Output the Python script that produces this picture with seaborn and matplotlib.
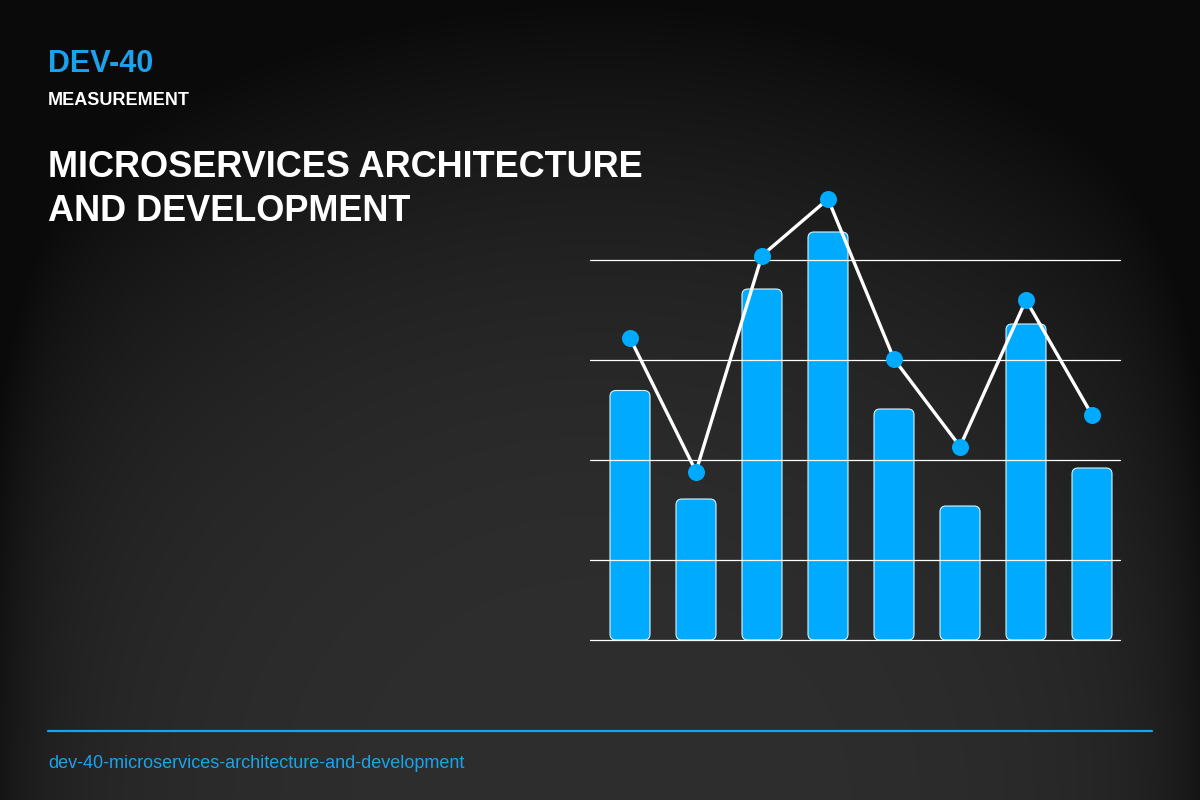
import numpy as np
import matplotlib.pyplot as plt
from matplotlib.patches import FancyBboxPatch
import seaborn as sns

# data (arbitrary units, 0 = chart baseline)
categories = ["1", "2", "3", "4", "5", "6", "7", "8"]
bar_values = [49.9, 28.2, 70.2, 81.6, 46.2, 26.8, 63.2, 34.4]
line_values = [60.4, 33.7, 76.9, 88.2, 56.2, 38.7, 68.0, 45.0]
grid_values = [0, 16, 36, 56, 76]

header = "DEV-40"
subheader = "MEASUREMENT"
title = "MICROSERVICES ARCHITECTURE\nAND DEVELOPMENT"
footer = "dev-40-microservices-architecture-and-development"

BLUE = "#00AAFF"
TEXT_BLUE = "#1AA3EC"

sns.set_theme(style="dark")
plt.rcParams['font.family'] = ['Liberation Sans', 'DejaVu Sans']

W, H = 1200, 800
fig = plt.figure(figsize=(12, 8), dpi=100)

# background: elliptical gradient from the bottom plus darker side edges
bg = fig.add_axes([0, 0, 1, 1], zorder=-10)
yy, xx = np.mgrid[0:H, 0:W].astype(float)
r = np.sqrt(((xx - 600) / 900.0) ** 2 + ((yy - 800) / 800.0) ** 2)
v = 46 - 36 * np.clip(r, 0, 1) ** 2.8
v -= 14 * (np.exp(-xx / 45.0) + np.exp(-(W - xx) / 45.0))
shade = np.clip(v, 10, 255) / 255.0
bg.imshow(np.dstack([shade, shade, shade]), extent=[0, W, H, 0], aspect="auto")
bg.set_axis_off()

# chart axes: x 590..1120 px, y 180..640 px
ax = fig.add_axes([590 / W, (H - 640) / H, 530 / W, 460 / H])
ax.set_facecolor("none")

sns.barplot(x=categories, y=bar_values, color=BLUE, width=40 / 66,
            saturation=1, ax=ax)
ax.set_xlim(-40 / 66, 7 + 28 / 66)
ax.set_ylim(0, 92)

# rounded bars
fig.canvas.draw()
px_x = ax.transData.transform((1, 0))[0] - ax.transData.transform((0, 0))[0]
px_y = ax.transData.transform((0, 1))[1] - ax.transData.transform((0, 0))[1]
rx = 6 / px_x
ry = 6 / px_y
for p in list(ax.patches):
    x0, y0, w, h = p.get_x(), p.get_y(), p.get_width(), p.get_height()
    p.remove()
    ax.add_patch(FancyBboxPatch((x0, y0), w, h,
                                boxstyle=f"round,pad=0,rounding_size={rx}",
                                mutation_aspect=ry / rx,
                                facecolor=BLUE, edgecolor="#d8f4ff",
                                linewidth=0.8, zorder=1))

for gv in grid_values:
    ax.axhline(gv, color="white", linewidth=0.9, zorder=2, clip_on=False)

xpos = np.arange(len(categories))
sns.lineplot(x=xpos, y=line_values, color="white", linewidth=2.4,
             ax=ax, zorder=3)
sns.scatterplot(x=xpos, y=line_values, color=BLUE, s=150, linewidth=0,
                ax=ax, zorder=4)

ax.set_xlabel("")
ax.set_ylabel("")
ax.set_xticks([])
ax.set_yticks([])
ax.grid(False)
for s in ax.spines.values():
    s.set_visible(False)

# texts
def px(x, y):
    return x / W, 1 - y / H

fig.text(*px(48, 72), header, color=TEXT_BLUE, fontsize=22,
         fontweight="bold", va="baseline")
fig.text(*px(48, 105), subheader, color="white", fontsize=13,
         fontweight="bold", va="baseline")
fig.text(*px(48, 177), title.split("\n")[0], color="white", fontsize=26,
         fontweight="bold", va="baseline")
fig.text(*px(48, 221), title.split("\n")[1], color="white", fontsize=26,
         fontweight="bold", va="baseline")

fig.add_artist(plt.Line2D([48 / W, 1152 / W], [1 - 731 / H, 1 - 731 / H],
                          color=TEXT_BLUE, linewidth=1.6))
fig.text(*px(48, 768), footer, color=TEXT_BLUE, fontsize=13,
         va="baseline")

fig.savefig("out.png", dpi=100)
